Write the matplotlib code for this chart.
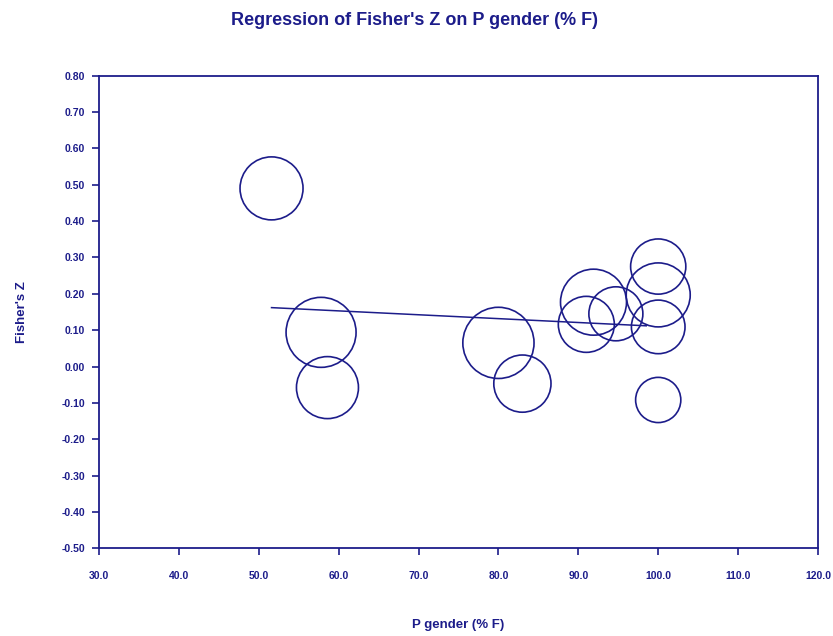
import matplotlib
matplotlib.use("Agg")
import matplotlib.pyplot as plt
import numpy as np

# Data
pct_female = [51.6, 57.8, 58.6, 80.0, 83.0, 91.9, 91.0, 94.7, 100.0, 100.0, 100.0, 100.0]
fishers_z = [0.490, 0.094, -0.058, 0.065, -0.047, 0.177, 0.116, 0.145, 0.275, 0.197, 0.109, -0.092]
weights = [31.5, 35.0, 31.0, 35.6, 28.6, 33.0, 28.0, 27.0, 27.6, 32.0, 26.8, 22.6]  # relative circle radius
reg_x = [51.6, 98.5]
reg_y = [0.162, 0.112]

x_ticks = [30, 40, 50, 60, 70, 80, 90, 100, 110, 120]
y_ticks = [-0.5, -0.4, -0.3, -0.2, -0.1, 0.0, 0.1, 0.2, 0.3, 0.4, 0.5, 0.6, 0.7, 0.8]

navy = "#1c1c8a"
plt.rcParams['font.family'] = ['Liberation Sans', 'DejaVu Sans']

fig = plt.figure(figsize=(8.33, 6.36), dpi=100)
ax = fig.add_axes([0.1188, 0.1379, 0.982 - 0.1188, 0.881 - 0.1379])

w = np.array(weights)
sizes = (2 * w * 0.72) ** 2
ax.scatter(pct_female, fishers_z, s=sizes, facecolors='none', edgecolors=navy, linewidths=1.2, zorder=3)
ax.plot(reg_x, reg_y, color=navy, linewidth=1.1, zorder=2)

ax.set_xlim(30, 120)
ax.set_ylim(-0.5, 0.8)
ax.set_xticks(x_ticks)
ax.set_yticks(y_ticks)
ax.set_xticklabels([f"{v:.1f}" for v in x_ticks], fontsize=7.5, fontweight='bold', color=navy)
ax.set_yticklabels([f"{v:.2f}" for v in y_ticks], fontsize=7.5, fontweight='bold', color=navy)
ax.tick_params(axis='both', direction='out', length=5, width=1.2, color=navy)
ax.tick_params(axis='y', pad=5)
ax.tick_params(axis='x', pad=11)
for sp in ax.spines.values():
    sp.set_color(navy)
    sp.set_linewidth(1.3)

ax.set_xlabel("P gender (% F)", fontsize=9.5, fontweight='bold', color=navy, labelpad=28)
ax.set_ylabel("Fisher's Z", fontsize=9.5, fontweight='bold', color=navy, labelpad=24)
fig.text(0.498, 0.967, "Regression of Fisher's Z on P gender (% F)", ha='center', va='center',
         fontsize=13, fontweight='bold', color=navy)

fig.savefig("out.png", dpi=100, facecolor='white')
